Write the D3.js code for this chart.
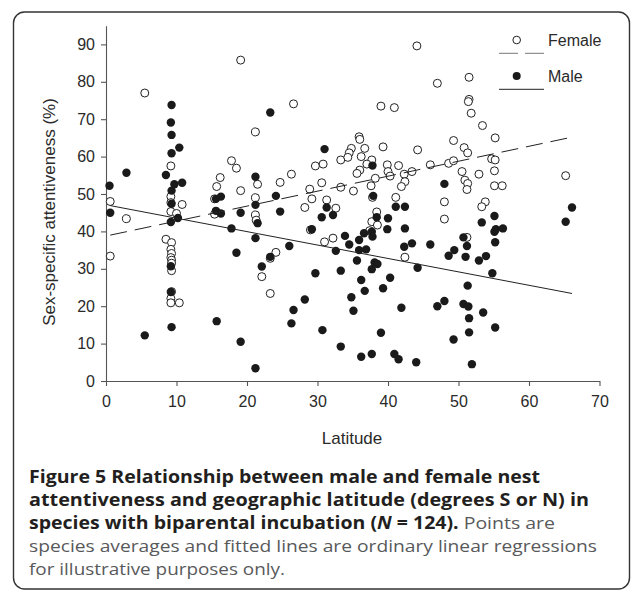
<!DOCTYPE html>
<html><head><meta charset="utf-8">
<script src="https://cdn.jsdelivr.net/npm/d3@7"></script>
<style>body{margin:0;background:#fff}svg{display:block}</style>
</head><body>
<svg id="chart" width="634" height="596"></svg>
<script>
// ---- data ----
const femaleLatitude = [5.5,9.2,9.2,9.2,10.8,0.6,2.9,16.2,15.7,15.4,15.4,9.2,10.0,0.6,8.5,9.3,9.2,9.3,9.2,9.3,9.3,9.3,9.3,9.2,9.2,10.4,
  19.1,26.6,21.2,17.8,18.5,29.7,30.8,33.3,21.5,26.3,24.7,30.6,19.1,28.9,33.3,21.2,29.2,31.3,28.2,32.6,21.2,21.3,24.1,23.3,22.1,23.3,29.0,31.0,32.2,
  44.1,47.0,39.0,40.9,35.9,36.0,34.8,34.5,34.3,36.7,39.3,44.2,49.3,36.2,37.7,37.0,36.0,35.6,39.9,41.5,40.0,40.3,42.3,43.4,42.4,41.9,46.0,48.6,49.3,
  38.2,37.6,35.1,37.8,41.1,48.0,48.0,38.4,37.7,38.5,42.4,37.4,
  51.5,51.5,51.4,51.8,53.4,55.2,50.8,51.3,54.7,55.2,50.5,50.9,51.3,51.2,52.9,55.1,55.1,56.2,65.2,53.8,53.3,51.2];
const femaleAttentiveness = [77.0,57.5,49.3,47.7,47.2,48.0,43.4,54.4,52.0,48.7,44.6,45.3,44.8,33.4,37.9,37.0,35.2,34.1,33.0,32.3,31.5,29.5,23.9,22.1,20.9,20.9,
  85.8,74.1,66.6,58.9,56.9,57.5,58.0,59.1,52.6,55.3,53.1,53.0,50.9,51.3,51.8,49.0,48.7,48.4,46.4,46.2,44.4,43.0,34.4,32.8,27.9,23.4,40.4,37.2,38.2,
  89.6,79.6,73.5,73.1,65.3,64.6,62.2,61.0,59.8,62.2,62.6,61.8,64.3,60.0,59.1,58.0,56.4,55.5,57.8,57.6,56.0,54.8,55.3,56.0,53.3,52.0,57.8,58.2,58.9,
  54.2,52.2,50.8,49.1,49.1,47.9,43.3,45.2,42.6,41.7,33.1,40.2,
  81.2,75.3,74.7,71.6,68.3,65.0,62.4,61.0,59.4,59.1,56.0,53.7,52.8,51.2,55.3,56.2,52.2,52.2,54.9,47.9,46.6,38.4];

const maleLatitude = [9.3,9.2,9.3,10.4,9.3,2.9,8.5,9.7,10.8,0.5,9.3,9.3,0.6,15.6,16.3,15.6,16.3,10.2,9.2,9.2,9.2,5.5,9.3,15.7,
  23.3,31.0,21.2,24.1,21.2,31.3,19.1,24.7,30.6,32.2,21.5,17.8,21.2,18.5,26.0,23.3,22.1,29.7,28.2,26.6,26.3,19.1,21.2,30.7,33.3,29.2,32.6,33.3,33.9,
  37.8,37.9,41.1,42.4,48.0,38.4,40.0,39.9,42.4,37.7,36.6,37.8,35.9,34.5,36.9,35.9,43.4,42.3,46.0,49.4,48.6,35.6,38.1,38.5,37.7,44.2,36.2,40.3,39.3,36.7,
  34.8,35.1,41.9,47.0,48.0,39.0,36.2,37.7,40.9,41.5,44.0,49.3,
  66.1,55.1,65.2,53.3,55.1,56.3,55.2,50.7,51.2,51.0,52.9,53.9,54.8,51.3,50.7,51.4,53.5,51.5,55.2,51.5,51.9,55.3];
const maleAttentiveness = [73.8,69.1,65.8,62.4,60.9,55.7,55.1,52.6,53.0,52.2,50.9,47.4,45.0,48.7,49.3,45.5,44.8,43.6,42.5,30.7,23.8,12.2,14.4,16.0,
  71.8,62.0,54.6,49.5,47.1,46.4,45.0,45.3,43.8,44.4,42.2,40.8,38.2,34.3,36.1,33.2,30.6,28.8,21.8,19.0,15.4,10.5,3.4,13.6,9.2,40.6,34.8,29.5,38.8,
  57.6,49.5,46.6,46.6,52.7,43.8,43.5,40.6,40.8,39.9,39.5,38.6,37.7,36.5,35.2,35.0,36.8,35.9,36.5,35.0,33.5,32.2,31.7,31.3,29.9,30.3,27.0,27.6,24.8,24.1,
  22.4,18.8,19.6,20.0,21.4,12.9,6.5,7.2,7.2,5.8,5.0,11.1,
  46.4,44.1,42.6,42.4,39.9,40.8,37.1,38.4,36.1,33.2,32.2,33.4,28.8,25.5,20.6,19.9,18.3,16.8,14.3,13.0,4.5,40.6];

// fitted regression lines (end points)
const femaleFitLatitude = [0.6, 66.1];
const femaleFitValue = [39.0, 65.2];
const maleFitLatitude = [0.6, 66.1];
const maleFitValue = [46.9, 23.4];

const xTicks = [0,10,20,30,40,50,60,70];
const yTicks = [0,10,20,30,40,50,60,70,80,90];
const legendLabels = ["Female","Male"];
const xTitle = "Latitude";
const yTitle = "Sex-specific attentiveness (%)";

const captionLines = [
  [{t:"Figure 5 Relationship between male and female nest", w:"bold"}],
  [{t:"attentiveness and geographic latitude (degrees S or N) in", w:"bold"}],
  [{t:"species with biparental incubation (", w:"bold"},{t:"N", w:"bold", i:true},{t:" = 124).", w:"bold"},{t:" Points are", w:"normal"}],
  [{t:"species averages and fitted lines are ordinary linear regressions", w:"normal"}],
  [{t:"for illustrative purposes only.", w:"normal"}]
];
const captionWidths = [511, 560, 526, 568, 256];

// ---- drawing ----
const svg = d3.select("#chart");
const x = d3.scaleLinear().domain([0,70]).range([106, 599.5]);
const y = d3.scaleLinear().domain([0,95]).range([381, 25.7]);

svg.append("rect").attr("x",13.5).attr("y",12).attr("width",616).attr("height",577)
  .attr("rx",11).attr("fill","none").attr("stroke","#333").attr("stroke-width",1.4);

const axisFont = "'Liberation Sans', Arial, sans-serif";

const gx = svg.append("g").attr("transform","translate(0,381)")
  .call(d3.axisBottom(x).tickValues(xTicks).tickSize(5).tickSizeOuter(0).tickPadding(10));
const gy = svg.append("g").attr("transform","translate(106,0)")
  .call(d3.axisLeft(y).tickValues(yTicks).tickSize(5).tickSizeOuter(0).tickPadding(6));
[gx,gy].forEach(g=>{
  g.selectAll("path,line").attr("stroke","#555").attr("stroke-width",1.1);
  g.selectAll("text").attr("font-family",axisFont).attr("font-size",16).attr("fill","#2a2a2a");
});

svg.append("text").attr("x",352).attr("y",444).attr("text-anchor","middle")
  .attr("font-family",axisFont).attr("font-size",17).attr("fill","#2a2a2a").text(xTitle);
svg.append("text").attr("transform","translate(55,212) rotate(-90)").attr("text-anchor","middle")
  .attr("font-family",axisFont).attr("font-size",17).attr("fill","#2a2a2a").text(yTitle);

// points
const female = femaleLatitude.map((d,i)=>[d, femaleAttentiveness[i]]);
const male = maleLatitude.map((d,i)=>[d, maleAttentiveness[i]]);
svg.append("g").selectAll("circle").data(female).join("circle")
  .attr("cx",d=>x(d[0])).attr("cy",d=>y(d[1])).attr("r",4)
  .attr("fill","#fff").attr("stroke","#222").attr("stroke-width",1);
svg.append("g").selectAll("circle").data(male).join("circle")
  .attr("cx",d=>x(d[0])).attr("cy",d=>y(d[1])).attr("r",4.2)
  .attr("fill","#1a1a1a");

// fitted lines
const line = d3.line().x(d=>x(d[0])).y(d=>y(d[1]));
svg.append("path").datum(femaleFitLatitude.map((d,i)=>[d,femaleFitValue[i]]))
  .attr("d",line).attr("fill","none").attr("stroke","#222").attr("stroke-width",1).attr("stroke-dasharray","17,8");
svg.append("path").datum(maleFitLatitude.map((d,i)=>[d,maleFitValue[i]]))
  .attr("d",line).attr("fill","none").attr("stroke","#222").attr("stroke-width",1);

// legend
const lg = svg.append("g");
legendLabels.forEach((lab,i)=>{
  const cy = 40 + i*36;
  lg.append("circle").attr("cx",516.7).attr("cy",cy).attr("r",i===0?3.8:4)
    .attr("fill",i===0?"#fff":"#1a1a1a").attr("stroke",i===0?"#222":"none").attr("stroke-width",1);
  lg.append("line").attr("x1",499).attr("x2",544).attr("y1",cy+13.3).attr("y2",cy+13.3)
    .attr("stroke",i===0?"#777":"#222").attr("stroke-width",1)
    .attr("stroke-dasharray",i===0?"19,7":null);
  lg.append("text").attr("x",548).attr("y",cy+5.5).attr("font-family",axisFont)
    .attr("font-size",16).attr("fill","#2a2a2a").text(lab);
});

// caption
const capFont = "'Open Sans', 'Noto Sans', sans-serif";
captionLines.forEach((segs,i)=>{
  const t = svg.append("text").attr("x",29).attr("y",483 + i*23)
    .attr("font-family",capFont).attr("font-size",17)
    .attr("textLength",captionWidths[i]).attr("lengthAdjust","spacingAndGlyphs");
  segs.forEach(s=>{
    t.append("tspan").attr("font-weight",s.w).attr("font-style",s.i?"italic":"normal")
      .attr("fill",s.w==="bold"?"#231f20":"#58595b").text(s.t);
  });
});
</script>
</body></html>
